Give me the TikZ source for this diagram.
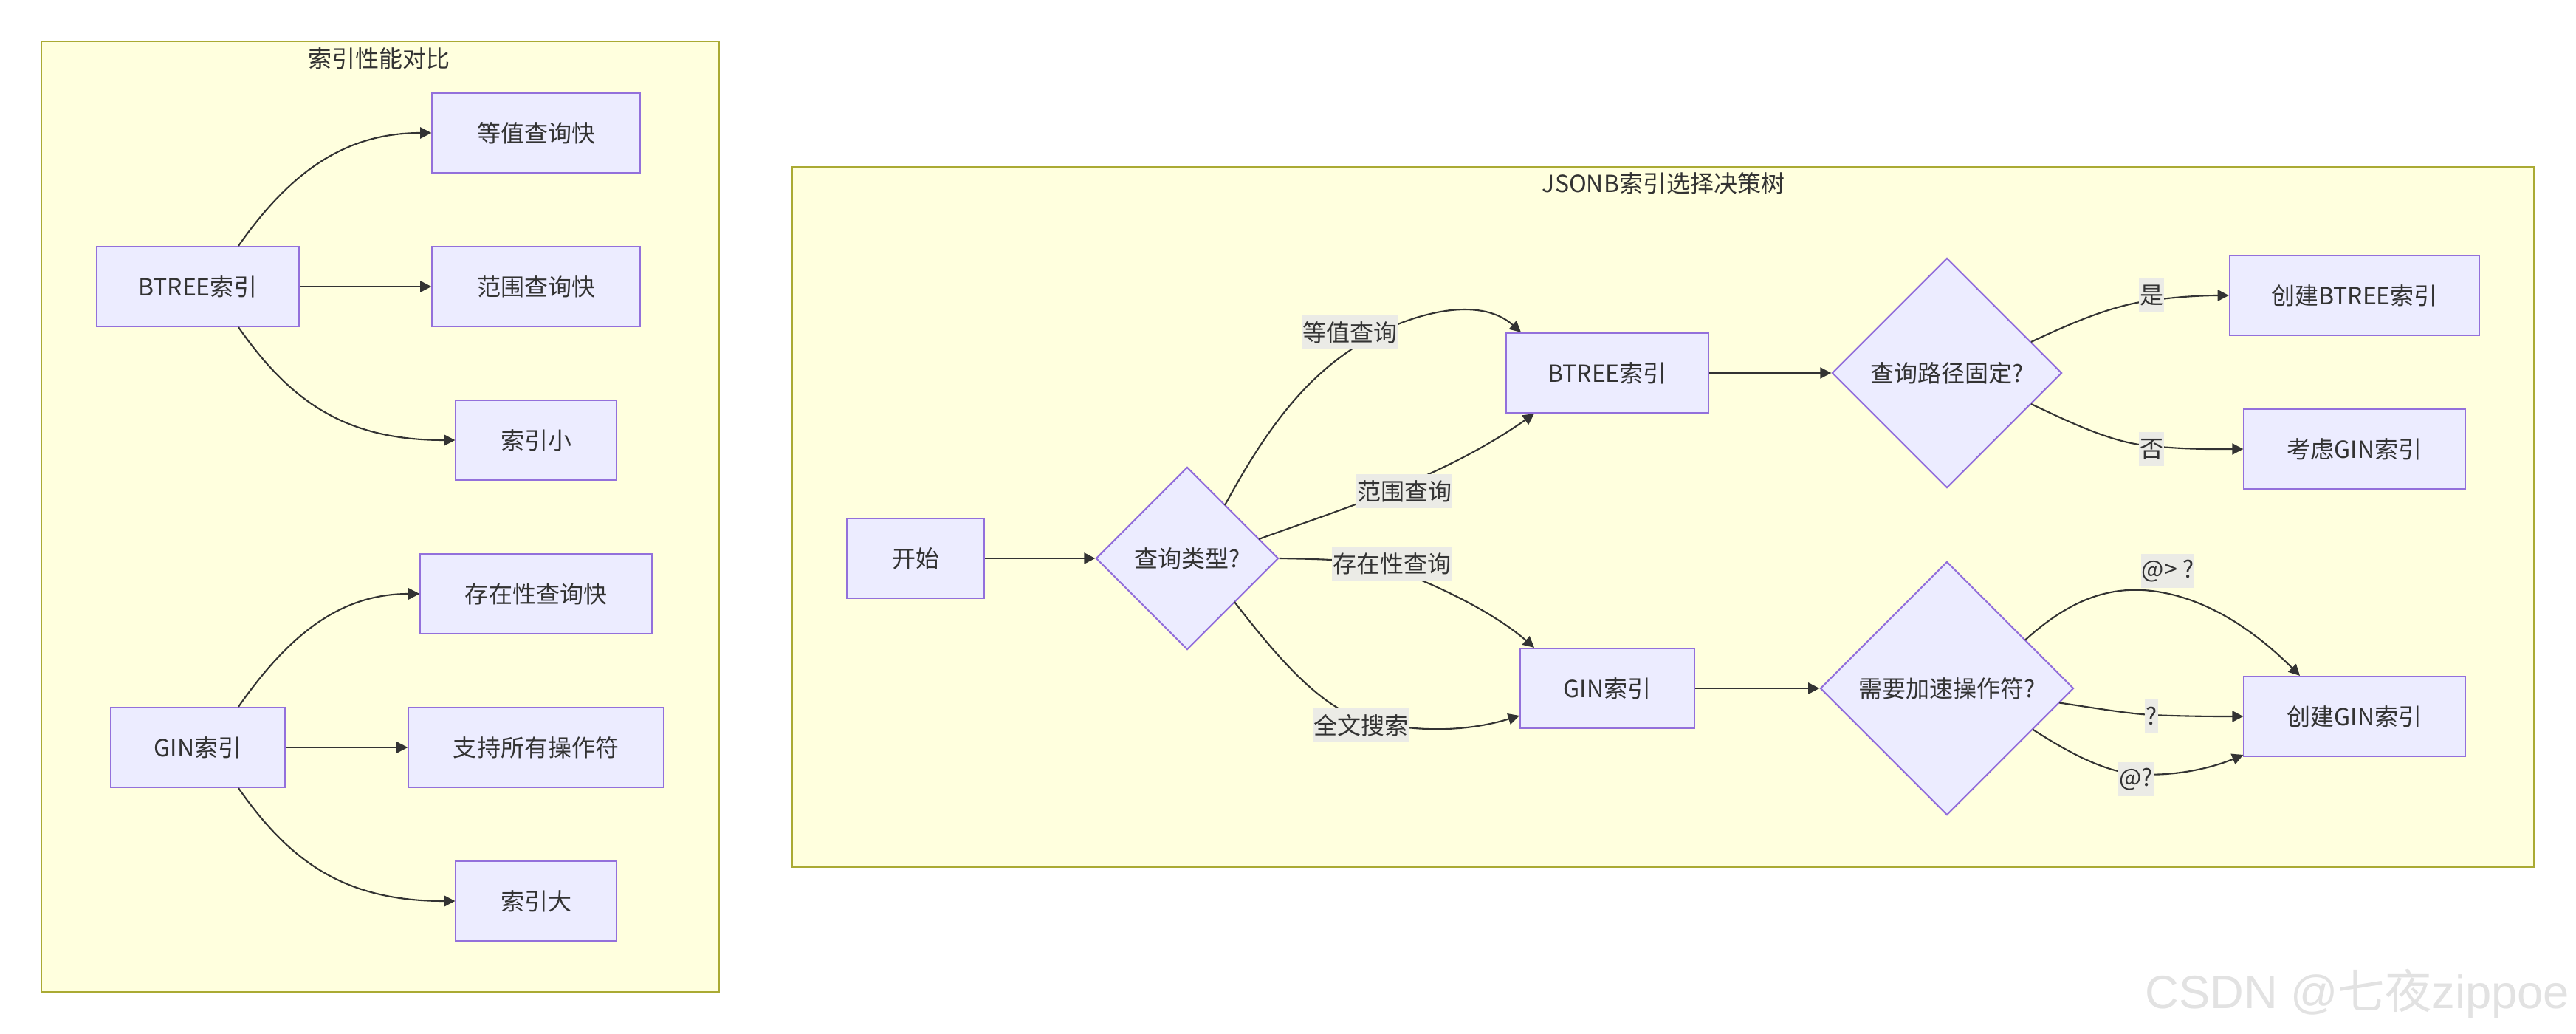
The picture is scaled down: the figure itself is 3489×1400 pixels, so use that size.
\documentclass[tikz,border=0pt]{standalone}
\usepackage{fontspec}
\setmainfont{Noto Sans CJK SC}
\newfontfamily\wmlatin{Liberation Sans}
\newfontfamily\wmcjk{Noto Sans CJK SC}
\usetikzlibrary{shapes.geometric,arrows.meta,calc}
\definecolor{nodefill}{HTML}{ECECFF}
\definecolor{nodeline}{HTML}{9370DB}
\definecolor{clfill}{HTML}{FFFFDE}
\definecolor{clline}{HTML}{AAAA33}
\definecolor{edgecol}{HTML}{333333}
\definecolor{txtcol}{HTML}{333333}
\definecolor{labfill}{HTML}{EBEBE6}
\definecolor{wmcol}{HTML}{E2E2E2}
\tikzset{
  txtbase/.style={font=\fontsize{9.1pt}{11pt}\selectfont, text=txtcol},
  box/.style={txtbase, draw=nodeline, fill=nodefill, line width=0.6pt, inner sep=0pt, minimum height=1.08cm},
  dia/.style={txtbase, diamond, aspect=1, draw=nodeline, fill=nodefill, line width=0.6pt, inner sep=0pt},
  elab/.style={txtbase, fill=labfill, inner xsep=0.3pt, inner ysep=0pt, minimum height=0.46cm},
  cluster/.style={draw=clline, fill=clfill, line width=0.6pt},
  ctitle/.style={txtbase, inner sep=0pt},
  conn/.style={draw=edgecol, line width=0.6pt, -{Triangle[length=4.3pt,width=4.3pt]}},
}
\begin{document}
\begin{tikzpicture}[x=0.01cm, y=-0.01cm]
\fill[white] (0,0) rectangle (3489,1400);
\useasboundingbox (0,0) rectangle (3489,1400);

% clusters
\draw[cluster] (56,56) rectangle (974,1343);
\node[ctitle] (t1) at (513,79) {索引性能对比};
\draw[cluster] (1073,226) rectangle (3432,1174);
\node[ctitle] (t2) at (2253,248) {JSONB索引选择决策树};

% left cluster nodes
\node[box, minimum width=2.74cm] (lb) at (268,388) {BTREE索引};
\node[box, minimum width=2.81cm] (l1) at (726,180) {等值查询快};
\node[box, minimum width=2.81cm] (l2) at (726,388) {范围查询快};
\node[box, minimum width=2.17cm] (l3) at (726,596) {索引小};
\node[box, minimum width=2.35cm] (lg) at (268,1012) {GIN索引};
\node[box, minimum width=3.13cm] (g1) at (726,804) {存在性查询快};
\node[box, minimum width=3.45cm] (g2) at (726,1012) {支持所有操作符};
\node[box, minimum width=2.17cm] (g3) at (726,1220) {索引大};

% right cluster nodes
\node[box, minimum width=1.85cm] (s) at (1240,756) {开始};
\node[dia, minimum width=2.47cm, minimum height=2.47cm] (d1) at (1608,756) {查询类型?};
\node[box, minimum width=2.74cm] (b) at (2177,505) {BTREE索引};
\node[box, minimum width=2.36cm] (g) at (2177,932) {GIN索引};
\node[dia, minimum width=3.11cm, minimum height=3.11cm] (d2) at (2637,505) {查询路径固定?};
\node[dia, minimum width=3.43cm, minimum height=3.43cm] (d3) at (2637,932) {需要加速操作符?};
\node[box, minimum width=3.38cm] (cb) at (3189,400) {创建BTREE索引};
\node[box, minimum width=2.99cm] (cg) at (3189,608) {考虑GIN索引};
\node[box, minimum width=2.99cm] (cgin) at (3189,970) {创建GIN索引};

% left edges
\draw[conn] ($(lb.north)+(55,0)$) .. controls (395,230) and (470,180) .. (l1.west);
\draw[conn] (lb.east) -- (l2.west);
\draw[conn] ($(lb.south)+(55,0)$) .. controls (395,546) and (470,596) .. (l3.west);
\draw[conn] ($(lg.north)+(55,0)$) .. controls (395,854) and (465,804) .. (g1.west);
\draw[conn] (lg.east) -- (g2.west);
\draw[conn] ($(lg.south)+(55,0)$) .. controls (395,1170) and (470,1220) .. (g3.west);

% right edges
\draw[conn] (s.east) -- (d1.west);
\draw[conn] ($(d1.center)+(51,-72)$) .. controls (1710,590) and (1760,520) .. (1829,474)
   .. controls (1880,436) and (1995,392) .. ($(b.north)+(-117,0)$);
\draw[conn] ($(d1.center)+(97,-26)$) .. controls (1800,695) and (1950,650) .. ($(b.south)+(-99,0)$);
\draw[conn] (d1.east) .. controls (1790,757) and (1850,758) .. (1885,770)
   .. controls (1960,797) and (2030,835) .. ($(g.north)+(-99,0)$);
\draw[conn] ($(d1.center)+(64,59)$) .. controls (1730,890) and (1790,960) .. (1850,975)
   .. controls (1920,993) and (1990,990) .. ($(g.west)+(0,37)$);
\draw[conn] (b.east) -- (d2.west);
\draw[conn] (g.east) -- (d3.west);
\draw[conn] ($(d2.center)+(114,-42)$) .. controls (2810,435) and (2860,415) .. (2905,408)
   .. controls (2950,401) and (2990,400) .. (cb.west);
\draw[conn] ($(d2.center)+(114,42)$) .. controls (2810,575) and (2860,598) .. (2905,603)
   .. controls (2960,609) and (3000,608) .. (cg.west);
\draw[conn] ($(d3.center)+(106,-65.5)$) .. controls (2800,815) and (2850,796) .. (2903,799)
   .. controls (2980,804) and (3050,850) .. ($(cgin.north)+(-74,0)$);
\draw[conn] ($(d3.center)+(152,19.5)$) .. controls (2840,959) and (2880,966) .. (2914,968)
   .. controls (2960,970) and (3000,970) .. (cgin.west);
\draw[conn] ($(d3.center)+(116,55.5)$) .. controls (2800,1018) and (2850,1045) .. (2893,1048)
   .. controls (2950,1052) and (3000,1038) .. ($(cgin.west)+(0,52)$);

% edge labels
\node[elab] (e1) at (1828,450) {等值查询};
\node[elab] (e2) at (1902,665) {范围查询};
\node[elab] (e3) at (1885,763) {存在性查询};
\node[elab] (e4) at (1843,982) {全文搜索};
\node[elab] (e5) at (2914,400) {是};
\node[elab] (e6) at (2914,608) {否};
\node[elab] (e7) at (2936,773) {@> ?};
\node[elab] (e8) at (2914,970) {?};
\node[elab] (e9) at (2893,1055) {@?};

% watermark
\node[anchor=base west, text=wmcol, font=\fontsize{18pt}{20pt}\selectfont, inner sep=0pt] (wm) at (2905,1365) {{\wmlatin CSDN @}{\wmcjk 七夜}{\wmlatin zippoe}};
\end{tikzpicture}
\end{document}
